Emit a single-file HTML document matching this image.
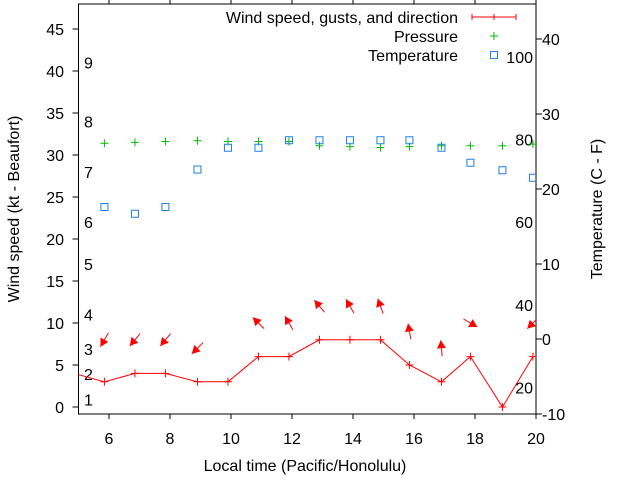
<!DOCTYPE html>
<html><head><meta charset="utf-8"><style>
body{margin:0;background:#fff}
svg{display:block;font-family:"Liberation Sans",sans-serif}
</style></head><body>
<svg id="chart" width="640" height="480" viewBox="0 0 640 480" xmlns="http://www.w3.org/2000/svg"></svg>
<script>
const hours=[4.85,5.85,6.85,7.85,8.9,9.9,10.9,11.9,12.9,13.9,14.9,15.85,16.9,17.85,18.9,19.9];
const wind=[4,3,4,4,3,3,6,6,8,8,8,5,3,6,0,6];
const gusts=[null,8,8,8,7,null,10,10,12,12,12,9,7,10,null,10];
const windDir=[null,30,40,40,45,null,135,150,140,150,160,170,175,300,null,45];
const pressure=[null,31.4,31.5,31.6,31.7,31.6,31.6,31.6,31.1,31.0,30.9,31.0,31.1,31.1,31.1,31.3];
const temperature=[null,17.6,16.7,17.6,22.6,25.5,25.5,26.5,26.5,26.5,26.5,26.5,25.5,23.5,22.5,21.5];
const xTicks=[6,8,10,12,14,16,18,20];
const yLeftTicks=[0,5,10,15,20,25,30,35,40,45];
const yRightTicks=[-10,0,10,20,30,40];
const beaufortLabels=["1","2","3","4","5","6","7","8","9"];
const beaufortKt=[0.9,3.9,6.9,11,17,22,28,34,41];
const humidityLabels=[20,40,60,80,100];

const L=78.5,R=536,T=4,B=414;
const FS=16;
const sx=h=>L+(h-5)*(R-L)/15;
const sy=v=>407-v*8.4;
const sr=v=>339-v*7.5;
const hy=p=>470-p*4.13;
const svg=document.getElementById('chart');
const NS='http://www.w3.org/2000/svg';
function mk(tag,attrs,parent){const e=document.createElementNS(NS,tag);for(const k in attrs)e.setAttribute(k,attrs[k]);(parent||svg).appendChild(e);return e;}
function txt(x,y,s,anchor,parent,extra){const e=mk('text',Object.assign({x:x,y:y,'font-size':FS,fill:'#000','text-anchor':anchor||'start'},extra||{}),parent);e.textContent=s;return e;}

const clip=mk('clipPath',{id:'pc'});mk('rect',{x:L,y:T,width:R-L,height:B-T},clip);

const frame=mk('rect',{x:L,y:T,width:R-L,height:B-T,fill:'none',stroke:'#000','stroke-width':1});


xTicks.forEach(t=>{const x=sx(t);
 mk('line',{x1:x,y1:B,x2:x,y2:B+5,stroke:'#000'});
 mk('line',{x1:x,y1:T,x2:x,y2:T-5,stroke:'#000'});
 const e=txt(x,444,String(t),'middle');
 });
yLeftTicks.forEach(t=>{const y=sy(t);
 mk('line',{x1:L-6,y1:y,x2:L,y2:y,stroke:'#000'});
 const e=txt(64,y+6,String(t),'end');
 });
yRightTicks.forEach(t=>{const y=sr(t);
 mk('line',{x1:R,y1:y,x2:R+6,y2:y,stroke:'#000'});
 const e=txt(542,y+6,String(t),'start');
 });
beaufortLabels.forEach((s,i)=>{const e=txt(84,sy(beaufortKt[i])+6,s,'start');
 });
humidityLabels.forEach(p=>{const e=txt(533,hy(p)+6,String(p),'end');
 });

const g=mk('g',{'clip-path':'url(#pc)'});

let d='';hours.forEach((h,i)=>{d+=(i?'L':'M')+sx(h)+','+sy(wind[i]);});
const wl=mk('path',{d:d,fill:'none',stroke:'#f00','stroke-width':1},g);

hours.forEach((h,i)=>{const x=sx(h),y=sy(wind[i]);
 const p=mk('path',{d:`M${x-4},${y}H${x+4}M${x},${y-4}V${y+4}`,stroke:'#f00'},g);
 });
hours.forEach((h,i)=>{if(gusts[i]==null)return;const cx=sx(h),cy=sy(gusts[i]);
 const a=(windDir[i])*Math.PI/180;
 const dx=-Math.sin(a),dy=Math.cos(a);const len=8;
 const x1=cx-dx*len,y1=cy-dy*len,x2=cx+dx*len,y2=cy+dy*len;
 const px=-dy,py=dx;
 const ag=mk('g',{},g);
 
 mk('line',{x1:x1,y1:y1,x2:x2,y2:y2,stroke:'#f00'},ag);
 mk('polygon',{points:`${x2},${y2} ${x2-dx*8+px*4.5},${y2-dy*8+py*4.5} ${x2-dx*8-px*4.5},${y2-dy*8-py*4.5}`,fill:'#f00'},ag);});
hours.forEach((h,i)=>{if(pressure[i]==null)return;const x=sx(h),y=sy(pressure[i]);
 const p=mk('path',{d:`M${x-4},${y}H${x+4}M${x},${y-4}V${y+4}`,stroke:'#0b0'},g);
 });
hours.forEach((h,i)=>{if(temperature[i]==null)return;const x=sx(h),y=sr(temperature[i]);
 const r=mk('rect',{x:x-3.5,y:y-3.5,width:7,height:7,fill:'none',stroke:'#1e7ee8'},g);
 });

const lg=mk('g',{});
txt(458,23,'Wind speed, gusts, and direction','end',lg);
mk('path',{d:'M472,17H516M472,14V20M494,14V20M516,14V20',stroke:'#f00'},lg);
txt(458,42,'Pressure','end',lg);
mk('path',{d:'M490,36H498M494,32V40',stroke:'#0b0'},lg);
txt(458,61,'Temperature','end',lg);
mk('rect',{x:490.5,y:51.5,width:7,height:7,fill:'none',stroke:'#1e7ee8'},lg);

const xt=txt(305,471,'Local time (Pacific/Honolulu)','middle');

const yl=txt(0,0,'Wind speed (kt - Beaufort)','middle',svg,{transform:'translate(19,209) rotate(-90)'});

const yr=txt(0,0,'Temperature (C - F)','middle',svg,{transform:'translate(602,209) rotate(-90)'});

</script>
</body></html>
